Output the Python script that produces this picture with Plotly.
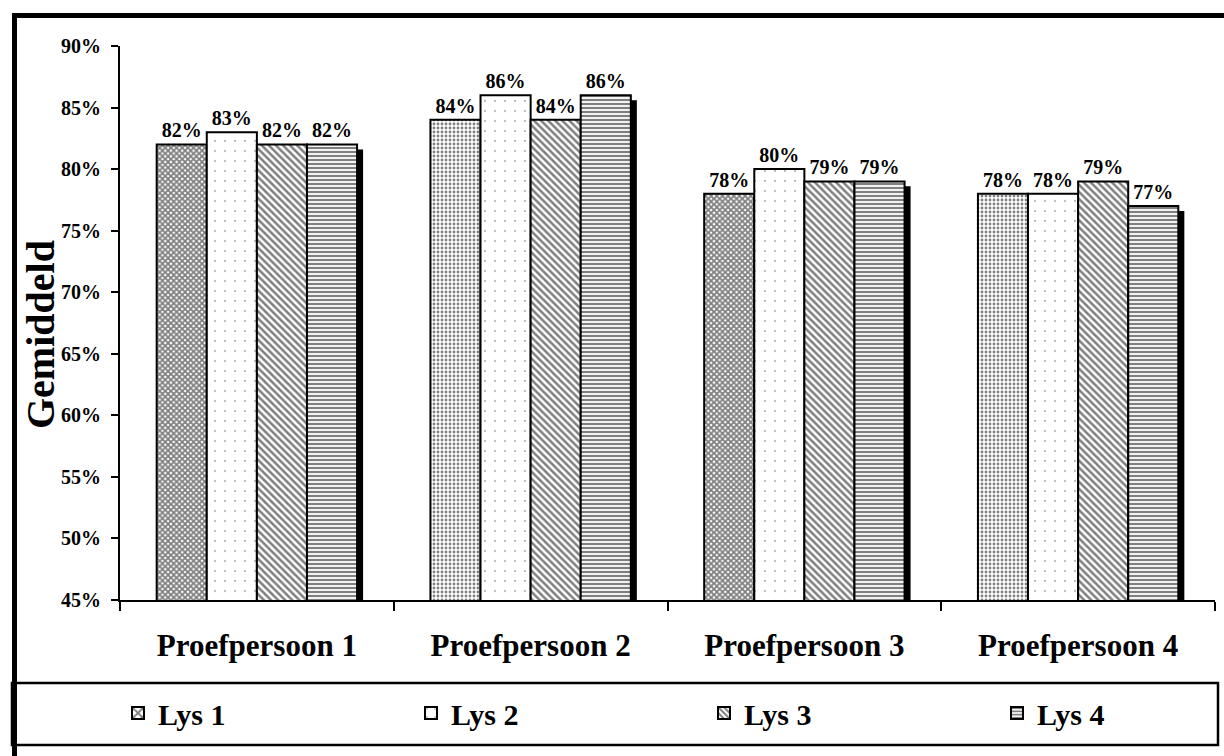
import plotly.graph_objects as go

categories = ["Proefpersoon 1", "Proefpersoon 2", "Proefpersoon 3", "Proefpersoon 4"]
series_names = ["Lys 1", "Lys 2", "Lys 3", "Lys 4"]
lys1 = [82, 84, 78, 78]
lys2 = [83, 86, 80, 78]
lys3 = [82, 84, 79, 79]
lys4 = [82, 86, 79, 77]
y_ticks = [45, 50, 55, 60, 65, 70, 75, 80, 85, 90]
y_tick_labels = ["45%", "50%", "55%", "60%", "65%", "70%", "75%", "80%", "85%", "90%"]

values = [lys1, lys2, lys3, lys4]

W, H = 1224, 756
ML, MR, MT, MB = 120, 9, 46, 156
PW = W - ML - MR
PH = H - MT - MB


def px_x(x):
    return (x - ML) / PW


def px_y(y):
    return (H - MB - y) / PH


FONT = "Liberation Serif, Times New Roman, serif"

bar_w = 0.183
offsets = [-2 * bar_w, -bar_w, 0, bar_w]
shadow_dx = 0.022
shadow_dy = 0.4

patterns = [
    dict(shape=["x", ".", "x", "."], size=[4, 4, 4, 4], solidity=[0.7, 0.4, 0.7, 0.4],
         fgcolor="black", bgcolor="white"),
    dict(shape=".", size=10, solidity=0.04, fgcolor="#777777", bgcolor="white"),
    dict(shape="\\", size=5, solidity=0.5, fgcolor="black", bgcolor="white"),
    dict(shape="-", size=4, solidity=0.55, fgcolor="black", bgcolor="white"),
]

fig = go.Figure()

# drop shadow of the right-most bar in each group (drawn behind the bars)
fig.add_trace(go.Bar(
    x=categories,
    y=[v - shadow_dy for v in lys4],
    width=bar_w,
    offset=offsets[3] + shadow_dx,
    marker=dict(color="black", line=dict(width=0)),
    showlegend=False,
    hoverinfo="skip",
))

for i, vals in enumerate(values):
    fig.add_trace(go.Bar(
        name=series_names[i],
        x=categories,
        y=vals,
        width=bar_w,
        offset=offsets[i],
        marker=dict(color="white", pattern=patterns[i], line=dict(color="black", width=2)),
        text=[f"{v}%" for v in vals],
        textposition="outside",
        cliponaxis=False,
        textfont=dict(family=FONT, size=20, color="black", weight="bold"),
    ))

fig.update_layout(
    width=W, height=H,
    margin=dict(l=ML, r=MR, t=MT, b=MB, autoexpand=False),
    barmode="overlay",
    paper_bgcolor="white",
    plot_bgcolor="white",
    font=dict(family=FONT, color="black"),
    legend=dict(
        orientation="h",
        x=px_x(118), xanchor="left",
        y=px_y(713), yanchor="middle",
        entrywidth=248, entrywidthmode="pixels",
        font=dict(family=FONT, size=30, color="black", weight="bold"),
        bgcolor="rgba(0,0,0,0)",
        traceorder="normal",
    ),
    xaxis=dict(
        type="category",
        range=[-0.5, 3.5],
        tickson="boundaries",
        ticks="outside", ticklen=9, tickwidth=2, tickcolor="black",
        showline=True, linecolor="black", linewidth=2,
        showgrid=False, zeroline=False,
        tickfont=dict(family=FONT, size=31, color="black", weight="bold"),
        ticklabelstandoff=17,
    ),
    yaxis=dict(
        range=[45, 90],
        tickvals=y_ticks,
        ticktext=y_tick_labels,
        ticks="outside", ticklen=7, tickwidth=2, tickcolor="black",
        showline=True, linecolor="black", linewidth=2,
        showgrid=False, zeroline=False,
        tickfont=dict(family=FONT, size=20, color="black", weight="bold"),
        ticklabelstandoff=6,
    ),
    annotations=[dict(
        text="Gemiddeld", textangle=-90,
        xref="paper", yref="paper",
        x=px_x(40), y=px_y(335), xanchor="center", yanchor="middle",
        showarrow=False,
        font=dict(family=FONT, size=40, color="black", weight="bold"),
    )],
    shapes=[
        dict(type="rect", xref="paper", yref="paper",
             x0=px_x(14.5), x1=px_x(1250), y0=px_y(15.5), y1=px_y(800),
             line=dict(color="black", width=5), layer="below"),
        dict(type="rect", xref="paper", yref="paper",
             x0=px_x(12), x1=px_x(1218), y0=px_y(683), y1=px_y(745),
             line=dict(color="black", width=2.5), layer="below"),
    ],
)

fig.write_html(
    "out.html",
    config={"displayModeBar": False},
    post_script="document.body.style.margin='0';document.body.style.overflow='hidden';",
)
